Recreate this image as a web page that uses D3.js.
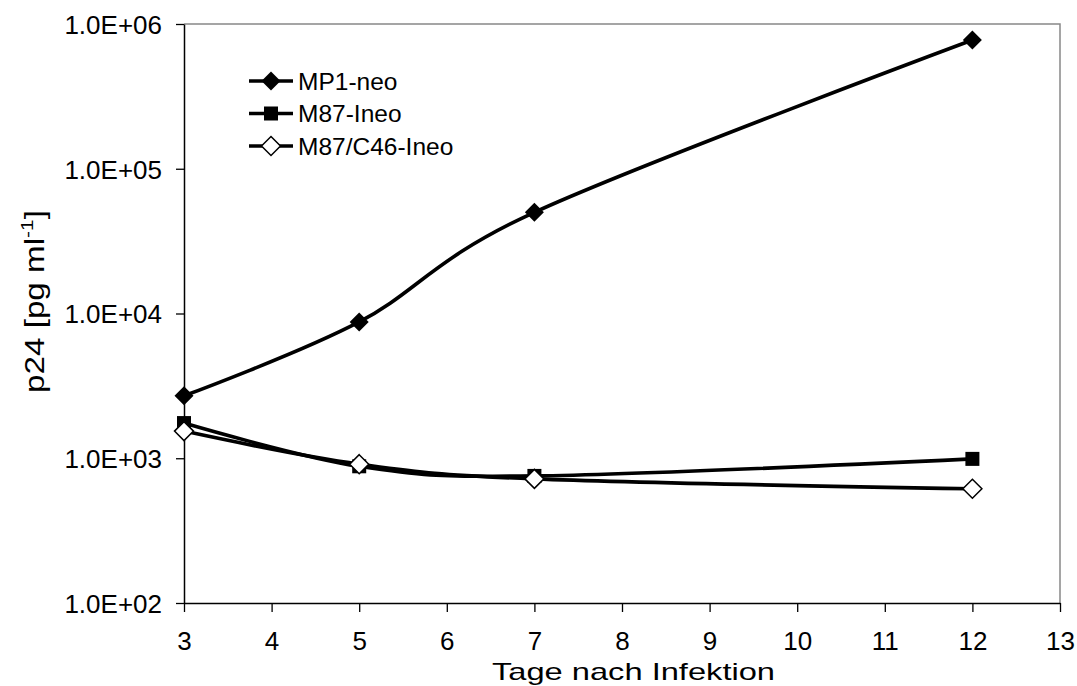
<!DOCTYPE html>
<html>
<head>
<meta charset="utf-8">
<script src="https://cdn.jsdelivr.net/npm/d3@7"></script>
<style>
  body { margin: 0; background: #fff; }
  svg { display: block; font-family: "Liberation Sans", Arial, sans-serif; }
</style>
</head>
<body>
<svg id="chart" width="1077" height="686"></svg>
<script>
// days after infection
const days = [3, 5, 7, 12];

// p24 values [pg/ml]
const mp1Neo = [2700, 8750, 50000, 775000];
const m87Ineo = [1750, 880, 755, 990];
const m87C46Ineo = [1540, 910, 720, 615];

const seriesNames = ["MP1-neo", "M87-Ineo", "M87/C46-Ineo"];
const xTicks = [3, 4, 5, 6, 7, 8, 9, 10, 11, 12, 13];
const yTicks = [1e2, 1e3, 1e4, 1e5, 1e6];

const series = [
  { name: seriesNames[0], values: mp1Neo, marker: "diamond", fill: "#000" },
  { name: seriesNames[1], values: m87Ineo, marker: "square", fill: "#000" },
  { name: seriesNames[2], values: m87C46Ineo, marker: "diamond", fill: "#fff" }
];

// plot area
const plot = { left: 184, right: 1060, top: 24, bottom: 603 };

const svg = d3.select("#chart");

const x = d3.scaleLinear().domain([3, 13]).range([plot.left, plot.right]);
const y = d3.scaleLog().domain([1e2, 1e6]).range([plot.bottom, plot.top]);

// excel style label, e.g. 1.0E+03
const sci = v => {
  const e = Math.round(Math.log10(v));
  const m = v / Math.pow(10, e);
  return m.toFixed(1) + "E+" + String(e).padStart(2, "0");
};

// grey border on top and right
svg.append("path")
  .attr("d", `M${plot.left},${plot.top}H${plot.right}V${plot.bottom}`)
  .attr("fill", "none")
  .attr("stroke", "#888")
  .attr("stroke-width", 1.5);

// Y axis
const yAxis = svg.append("g")
  .attr("transform", `translate(${plot.left},0)`)
  .call(d3.axisLeft(y).tickValues(yTicks).tickFormat(sci).tickSizeInner(8).tickSizeOuter(0).tickPadding(14));
yAxis.select(".domain").attr("stroke", "#000").attr("stroke-width", 1.5);
yAxis.selectAll(".tick line").attr("stroke", "#000").attr("stroke-width", 1.3);
yAxis.selectAll("text")
  .attr("font-size", 26)
  .attr("font-family", "Liberation Sans, Arial, sans-serif")
  .attr("fill", "#000")
  .attr("dy", "0.36em");

// X axis
const xAxis = svg.append("g")
  .attr("transform", `translate(0,${plot.bottom})`)
  .call(d3.axisBottom(x).tickValues(xTicks).tickFormat(d3.format("d")).tickSizeInner(9).tickSizeOuter(0).tickPadding(20));
xAxis.select(".domain").attr("stroke", "#000").attr("stroke-width", 1.5);
xAxis.selectAll(".tick line").attr("stroke", "#000").attr("stroke-width", 1.3);
xAxis.selectAll("text")
  .attr("font-size", 26)
  .attr("font-family", "Liberation Sans, Arial, sans-serif")
  .attr("fill", "#000")
  .attr("dy", "0.71em");

// axis titles
svg.append("text")
  .attr("x", 492)
  .attr("y", 680)
  .attr("font-size", 24)
  .attr("textLength", 283)
  .attr("lengthAdjust", "spacingAndGlyphs")
  .text("Tage nach Infektion");

const yTitle = svg.append("text")
  .attr("transform", "translate(44,393) rotate(-90)")
  .attr("font-size", 27)
  .attr("textLength", 183)
  .attr("lengthAdjust", "spacingAndGlyphs");
yTitle.append("tspan").text("p24 [pg ml");
yTitle.append("tspan").attr("font-size", 17).attr("dy", -11).text("-1");
yTitle.append("tspan").attr("dy", 11).text("]");

// markers
const drawMarker = (sel, s) => {
  if (s.marker === "square") {
    sel.append("rect")
      .attr("x", -7).attr("y", -7)
      .attr("width", 14).attr("height", 14)
      .attr("fill", s.fill);
  } else {
    sel.append("path")
      .attr("d", "M0,-9.5L9.5,0L0,9.5L-9.5,0Z")
      .attr("fill", s.fill)
      .attr("stroke", "#000")
      .attr("stroke-width", s.fill === "#fff" ? 1.5 : 0);
  }
};

// smoothed lines like excel
const line = d3.line()
  .x((d, i) => x(days[i]))
  .y(d => y(d))
  .curve(d3.curveCatmullRom.alpha(0));

series.forEach(s => {
  svg.append("path")
    .datum(s.values)
    .attr("d", line)
    .attr("fill", "none")
    .attr("stroke", "#000")
    .attr("stroke-width", 3.6);

  s.values.forEach((v, i) => {
    const g = svg.append("g").attr("transform", `translate(${x(days[i])},${y(v)})`);
    drawMarker(g, s);
  });
});

// legend
const legendY = [81, 113.5, 146];
series.forEach((s, i) => {
  const g = svg.append("g").attr("transform", `translate(249,${legendY[i]})`);
  g.append("line")
    .attr("x1", 0).attr("x2", 44)
    .attr("stroke", "#000")
    .attr("stroke-width", 3.6);
  const m = g.append("g").attr("transform", "translate(22,0)");
  drawMarker(m, s);
  g.append("text")
    .attr("x", 49)
    .attr("dy", "0.36em")
    .attr("font-size", 24.5)
    .text(s.name);
});
</script>
</body>
</html>
